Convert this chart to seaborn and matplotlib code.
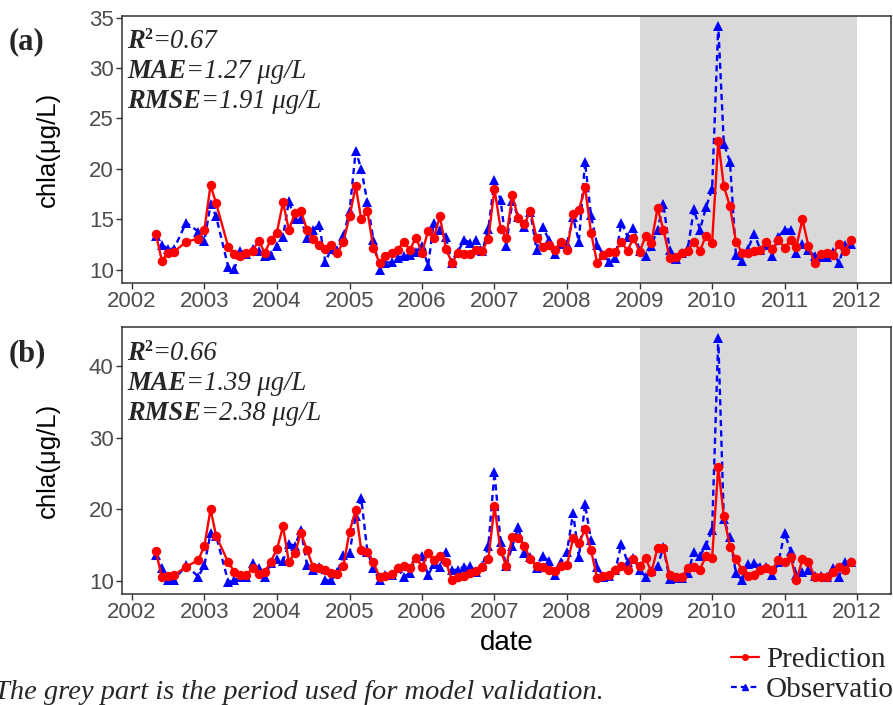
import matplotlib
matplotlib.use('Agg')
import matplotlib.pyplot as plt
import matplotlib.dates as mdates
from matplotlib.lines import Line2D
import seaborn as sns
import pandas as pd

# sampling dates (one value per month, a few months missing early on)
dates = [
    "2002-05", "2002-06", "2002-07", "2002-08", "2002-10", "2002-12",
    "2003-01", "2003-02", "2003-03", "2003-05", "2003-06", "2003-07", "2003-08", "2003-09", "2003-10", "2003-11", "2003-12",
    "2004-01", "2004-02", "2004-03", "2004-04", "2004-05", "2004-06", "2004-07", "2004-08", "2004-09", "2004-10", "2004-11", "2004-12",
    "2005-01", "2005-02", "2005-03", "2005-04", "2005-05", "2005-06", "2005-07", "2005-08", "2005-09", "2005-10", "2005-11", "2005-12",
    "2006-01", "2006-02", "2006-03", "2006-04", "2006-05", "2006-06", "2006-07", "2006-08", "2006-09", "2006-10", "2006-11", "2006-12",
    "2007-01", "2007-02", "2007-03", "2007-04", "2007-05", "2007-06", "2007-07", "2007-08", "2007-09", "2007-10", "2007-11", "2007-12",
    "2008-01", "2008-02", "2008-03", "2008-04", "2008-05", "2008-06", "2008-07", "2008-08", "2008-09", "2008-10", "2008-11", "2008-12",
    "2009-01", "2009-02", "2009-03", "2009-04", "2009-05", "2009-06", "2009-07", "2009-08", "2009-09", "2009-10", "2009-11", "2009-12",
    "2010-01", "2010-02", "2010-03", "2010-04", "2010-05", "2010-06", "2010-07", "2010-08", "2010-09", "2010-10", "2010-11", "2010-12",
    "2011-01", "2011-02", "2011-03", "2011-04", "2011-05", "2011-06", "2011-07", "2011-08", "2011-09", "2011-10", "2011-11", "2011-12",
]

pred_a = [13.6, 10.9, 11.7, 11.8, 12.8, 13.1,
          14.0, 18.4, 16.6, 12.3, 11.6, 11.4, 11.7, 11.9, 12.9, 11.7, 13.0,
          13.7, 16.7, 14.0, 15.6, 15.8, 14.0, 13.1, 12.5, 12.1, 12.5, 11.7, 12.8,
          15.3, 18.3, 15.0, 15.8, 12.2, 10.7, 11.4, 11.7, 12.0, 12.8, 12.0, 13.2,
          11.7, 13.9, 13.2, 15.3, 12.1, 10.7, 11.7, 11.6, 11.6, 12.0, 11.9, 13.1,
          18.0, 14.1, 13.2, 17.4, 15.1, 14.6, 15.8, 13.2, 12.3, 12.5, 12.0, 12.8,
          12.0, 15.5, 15.9, 18.2, 13.7, 10.7, 11.5, 11.8, 11.8, 12.8, 11.9, 13.2,
          11.8, 13.4, 12.7, 16.1, 14.0, 11.2, 11.3, 11.7, 11.9, 12.8, 11.9, 13.4,
          12.7, 22.8, 18.3, 16.3, 12.8, 11.7, 11.7, 11.9, 12.0, 12.8, 12.1, 13.0,
          12.2, 13.0, 12.3, 15.0, 12.4, 10.7, 11.6, 11.7, 11.5, 12.6, 11.9, 13.0]

obs_a = [13.4, 12.5, 12.1, 12.1, 14.7, 13.8,
         12.9, 16.5, 15.3, 10.3, 10.1, 11.9, 11.6, 12.1, 11.9, 11.4, 11.5,
         12.4, 13.3, 16.8, 15.0, 15.0, 13.2, 14.0, 14.5, 10.8, 12.1, 12.0, 13.4,
         15.8, 21.8, 20.0, 16.7, 13.0, 10.0, 10.7, 10.8, 11.2, 11.4, 11.5, 11.8,
         12.4, 10.4, 14.7, 14.0, 13.3, 10.7, 11.8, 13.0, 12.7, 13.0, 11.9, 14.1,
         18.9, 16.9, 12.4, 16.8, 15.2, 14.3, 15.7, 12.0, 14.3, 13.0, 11.6, 12.6,
         12.6, 15.2, 12.8, 20.7, 15.4, 12.5, 11.5, 10.8, 11.2, 14.7, 13.3, 14.2,
         11.9, 11.4, 12.4, 14.0, 16.5, 12.0, 11.1, 11.7, 12.2, 16.0, 14.0, 16.2,
         18.0, 34.2, 22.5, 20.7, 11.5, 10.9, 12.1, 13.6, 12.0, 12.5, 11.4, 13.3,
         14.0, 14.0, 11.7, 12.6, 12.0, 11.4, 11.3, 11.3, 11.8, 10.7, 12.5, 12.6]

pred_b = [14.2, 10.5, 10.7, 10.8, 12.0, 12.9,
          14.9, 20.0, 16.3, 12.6, 11.3, 10.8, 10.8, 11.8, 11.0, 11.2, 12.7,
          14.4, 17.6, 12.7, 13.9, 16.7, 14.3, 12.0, 11.8, 11.5, 11.1, 11.0, 12.1,
          16.9, 19.9, 14.3, 14.1, 12.6, 10.6, 10.7, 11.0, 11.8, 12.1, 11.8, 13.2,
          12.0, 13.9, 12.9, 13.5, 12.7, 10.1, 10.5, 10.7, 11.1, 11.4, 11.9, 13.0,
          20.4, 14.2, 12.1, 16.2, 16.0, 14.9, 13.0, 12.1, 11.9, 11.6, 11.4, 12.1,
          12.2, 16.0, 15.3, 17.2, 14.3, 10.4, 10.7, 10.8, 11.6, 12.1, 11.6, 13.0,
          12.1, 13.2, 11.2, 14.6, 14.6, 10.9, 10.6, 10.6, 11.8, 12.0, 11.6, 13.5,
          13.2, 25.9, 19.0, 14.8, 13.0, 11.6, 10.7, 10.8, 11.5, 11.8, 11.6, 12.9,
          12.6, 13.4, 10.1, 13.0, 12.7, 10.6, 10.6, 10.6, 11.3, 12.0, 11.5, 12.7]

obs_b = [13.6, 11.8, 10.2, 10.1, 12.2, 10.6,
         12.2, 16.7, 16.3, 9.9, 10.1, 10.5, 10.5, 12.5, 11.8, 10.6, 12.5,
         13.0, 12.8, 15.2, 14.9, 17.1, 12.2, 11.6, 11.9, 10.1, 10.1, 11.3, 13.6,
         13.9, 19.1, 21.5, 14.1, 11.8, 10.1, 10.8, 10.8, 11.8, 10.6, 11.1, 13.2,
         13.5, 10.8, 12.4, 12.0, 14.1, 11.5, 11.6, 12.0, 12.1, 11.2, 12.1, 14.9,
         25.2, 15.4, 12.1, 14.9, 17.5, 13.9, 13.3, 11.8, 13.5, 12.8, 10.8, 12.6,
         14.1, 19.5, 13.3, 20.7, 15.7, 12.0, 10.6, 10.7, 11.5, 15.2, 12.6, 13.2,
         11.5, 10.6, 11.4, 12.1, 14.7, 10.3, 10.4, 10.4, 11.1, 14.0, 13.5, 15.0,
         17.1, 43.8, 18.6, 16.1, 11.1, 10.1, 12.4, 12.5, 12.0, 11.9, 10.8, 12.6,
         16.7, 14.2, 10.8, 11.3, 11.6, 10.7, 10.7, 10.6, 11.8, 10.6, 12.6, 12.6]

stats_a = ["0.67", "1.27", "1.91"]
stats_b = ["0.66", "1.39", "2.38"]

sns.set_style("white")
sans = ["Liberation Sans", "DejaVu Sans"]
serif = ["Liberation Serif", "DejaVu Serif"]
plt.rcParams["font.family"] = sans

W, H = 893, 705
fig = plt.figure(figsize=(W / 100, H / 100), dpi=100)
ax_a = fig.add_axes([122 / W, 1 - 283 / H, 769 / W, 267 / H])
ax_b = fig.add_axes([122 / W, 1 - 594 / H, 769 / W, 267 / H])


def make_df(pred, obs):
    t = pd.to_datetime(dates)
    return pd.concat([
        pd.DataFrame({"date": t, "chla": obs, "type": "Observation"}),
        pd.DataFrame({"date": t, "chla": pred, "type": "Prediction"}),
    ])


def draw_panel(ax, pred, obs, ylim, yticks):
    ax.axvspan(pd.Timestamp("2009-01-01"), pd.Timestamp("2012-01-01"),
               facecolor="#D9D9D9", edgecolor="none", zorder=0)
    sns.lineplot(data=make_df(pred, obs), x="date", y="chla", hue="type", style="type",
                 hue_order=["Observation", "Prediction"],
                 palette={"Prediction": "#FF0000", "Observation": "#0000FF"},
                 markers={"Prediction": "o", "Observation": "^"},
                 dashes={"Prediction": "", "Observation": (2.6, 1.8)},
                 estimator=None, linewidth=1.7, markersize=6.8, markeredgewidth=0,
                 legend=False, ax=ax)
    ax.set_xlim(pd.Timestamp("2001-11-12"), pd.Timestamp("2012-06-20"))
    ax.set_ylim(*ylim)
    ax.set_yticks(yticks)
    ax.xaxis.set_major_locator(mdates.YearLocator())
    ax.xaxis.set_major_formatter(mdates.DateFormatter("%Y"))
    ax.tick_params(axis="both", length=4, width=1, color="#333333",
                   labelcolor="#4D4D4D", labelsize=16, pad=2, direction="out",
                   bottom=True, left=True)
    for sp in ax.spines.values():
        sp.set_color("#333333")
        sp.set_linewidth(1.1)
    ax.set_ylabel("chla(μg/L)", fontsize=18.5, color="black")
    ax.yaxis.set_label_coords(-0.081, 0.5)
    ax.set_xlabel("")


draw_panel(ax_a, pred_a, obs_a, (8.71, 35.15), [10, 15, 20, 25, 30, 35])
draw_panel(ax_b, pred_b, obs_b, (8.19, 45.4), [10, 20, 30, 40])
ax_b.set_xlabel("date", fontsize=20, color="black", labelpad=5)

renderer = fig.canvas.get_renderer()


def rich_line(x_px, base_px, parts, size=19.2):
    # draw pieces of text one after another on one baseline
    x = x_px
    for s, weight, style, rel, rise in parts:
        t = fig.text(x / W, 1 - (base_px - rise) / H, s, fontsize=size * rel,
                     fontweight=weight, fontstyle=style, family=serif,
                     va="baseline", ha="left")
        bb = t.get_window_extent(renderer)
        x = bb.x1


def stats_block(top_base, vals, label):
    fig.text(9 / W, 1 - (top_base + 1) / H, label, fontsize=22, fontweight="bold",
             family=serif, va="baseline", ha="left")
    rich_line(127, top_base, [("R", "bold", "italic", 1, 0), ("2", "bold", "normal", 0.6, 9),
                              ("=" + vals[0], "normal", "italic", 1, 0)])
    rich_line(127, top_base + 30, [("MAE", "bold", "italic", 1, 0),
                                   ("=" + vals[1] + " μg/L", "normal", "italic", 1, 0)])
    rich_line(127, top_base + 60, [("RMSE", "bold", "italic", 1, 0),
                                   ("=" + vals[2] + " μg/L", "normal", "italic", 1, 0)])


stats_block(48, stats_a, "(a)")
stats_block(360, stats_b, "(b)")

handles = [Line2D([], [], color="#FF0000", marker="o", markersize=4, linewidth=1.6),
           Line2D([], [], color="#0000FF", marker="^", markersize=4, linewidth=1.6,
                  linestyle=(0, (2.6, 1.8)))]
fig.legend(handles, ["Prediction", "Observation"], loc="upper left",
           bbox_to_anchor=(731 / W, 1 - 647 / H), frameon=False,
           prop={"family": serif, "size": 21}, handlelength=0.95,
           handletextpad=0.25, labelspacing=0.12, borderpad=0, borderaxespad=0)

fig.text(-6 / W, 1 - 699 / H, "The grey part is the period used for model validation.",
         family=serif, fontstyle="italic", fontsize=20.5, ha="left", va="baseline")

fig.savefig("out.png", dpi=100)
